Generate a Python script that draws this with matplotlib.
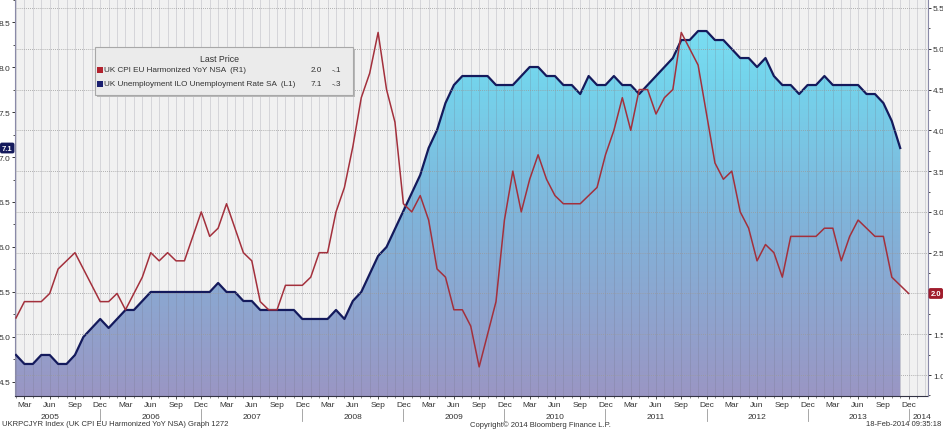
import numpy as np
import pandas as pd
import matplotlib
matplotlib.use("Agg")
import matplotlib.pyplot as plt
from matplotlib.colors import LinearSegmentedColormap
from matplotlib.patches import Rectangle
from matplotlib.transforms import blended_transform_factory

# --- DATA (monthly, Feb 2005 onwards) ---
# UK unemployment ILO rate SA (left axis, L1), Feb 2005 - Nov 2013
unemployment = [
    4.8, 4.7, 4.7, 4.8, 4.8, 4.7, 4.7, 4.8, 5.0, 5.1, 5.2,            # 2005
    5.1, 5.2, 5.3, 5.3, 5.4, 5.5, 5.5, 5.5, 5.5, 5.5, 5.5, 5.5,       # 2006
    5.5, 5.6, 5.5, 5.5, 5.4, 5.4, 5.3, 5.3, 5.3, 5.3, 5.3, 5.2,       # 2007
    5.2, 5.2, 5.2, 5.3, 5.2, 5.4, 5.5, 5.7, 5.9, 6.0, 6.2, 6.4,       # 2008
    6.6, 6.8, 7.1, 7.3, 7.6, 7.8, 7.9, 7.9, 7.9, 7.9, 7.8, 7.8,       # 2009
    7.8, 7.9, 8.0, 8.0, 7.9, 7.9, 7.8, 7.8, 7.7, 7.9, 7.8, 7.8,       # 2010
    7.9, 7.8, 7.8, 7.7, 7.8, 7.9, 8.0, 8.1, 8.3, 8.3, 8.4, 8.4,       # 2011
    8.3, 8.3, 8.2, 8.1, 8.1, 8.0, 8.1, 7.9, 7.8, 7.8, 7.7, 7.8,       # 2012
    7.8, 7.9, 7.8, 7.8, 7.8, 7.8, 7.7, 7.7, 7.6, 7.4, 7.1,            # 2013
]
# UK CPI EU harmonized YoY NSA (right axis, R1), Feb 2005 - Dec 2013
cpi = [
    1.7, 1.9, 1.9, 1.9, 2.0, 2.3, 2.4, 2.5, 2.3, 2.1, 1.9,            # 2005
    1.9, 2.0, 1.8, 2.0, 2.2, 2.5, 2.4, 2.5, 2.4, 2.4, 2.7, 3.0,       # 2006
    2.7, 2.8, 3.1, 2.8, 2.5, 2.4, 1.9, 1.8, 1.8, 2.1, 2.1, 2.1,       # 2007
    2.2, 2.5, 2.5, 3.0, 3.3, 3.8, 4.4, 4.7, 5.2, 4.5, 4.1, 3.1,       # 2008
    3.0, 3.2, 2.9, 2.3, 2.2, 1.8, 1.8, 1.6, 1.1, 1.5, 1.9, 2.9,       # 2009
    3.5, 3.0, 3.4, 3.7, 3.4, 3.2, 3.1, 3.1, 3.1, 3.2, 3.3, 3.7,       # 2010
    4.0, 4.4, 4.0, 4.5, 4.5, 4.2, 4.4, 4.5, 5.2, 5.0, 4.8, 4.2,       # 2011
    3.6, 3.4, 3.5, 3.0, 2.8, 2.4, 2.6, 2.5, 2.2, 2.7, 2.7, 2.7,       # 2012
    2.7, 2.8, 2.8, 2.4, 2.7, 2.9, 2.8, 2.7, 2.7, 2.2, 2.1, 2.0,       # 2013
]
left_ticks = [4.5, 5.0, 5.5, 6.0, 6.5, 7.0, 7.5, 8.0, 8.5]
right_ticks = [1.0, 1.5, 2.0, 2.5, 3.0, 3.5, 4.0, 4.5, 5.0, 5.5]
legend_rows = [
    ("UK CPI EU Harmonized YoY NSA  (R1)", "2.0", "-.1"),
    ("UK Unemployment ILO Unemployment Rate SA  (L1)", "7.1", "-.3"),
]

# --- STYLE ---
W, H = 943, 431
NAVY = "#141a5c"
RED = "#a3303c"
BG = "#f1f1f1"
plt.rcParams["font.family"] = ["Liberation Sans", "DejaVu Sans"]

x_u = np.arange(len(unemployment))
x_c = np.arange(len(cpi))
XMIN, XMAX = -0.12, 108.3
L_MIN, L_MAX = 4.344, 8.756
R_MIN, R_MAX = 0.743, 5.61

fig = plt.figure(figsize=(W / 100, H / 100), dpi=100)
fig.patch.set_facecolor("white")
ax = fig.add_axes([15 / W, 34 / H, 913 / W, 397 / H])
ax.set_facecolor(BG)
ax2 = ax.twinx()
ax2.patch.set_visible(False)

# gradient area under the unemployment line
cmap = LinearSegmentedColormap.from_list(
    "bbg", [(0.0, "#9a96c4"), (0.45, "#80b4da"), (0.8, "#74d4ec"), (1.0, "#7ee4f6")])
grad = np.linspace(0, 1, 256).reshape(-1, 1)
im = ax.imshow(grad, extent=[XMIN, XMAX, L_MIN, L_MAX], origin="lower",
               aspect="auto", cmap=cmap, zorder=1)
poly = ax.fill_between(x_u, unemployment, L_MIN, color="none", lw=0)
im.set_clip_path(poly.get_paths()[0], transform=ax.transData)

# monthly vertical grid
for i in range(0, 109):
    ax.axvline(i, color="#6f6f80", alpha=0.22, lw=0.7, zorder=2.5)

ax.plot(x_u, unemployment, color=NAVY, lw=1.6, zorder=3, solid_joinstyle="round")
ax2.plot(x_c, cpi, color=RED, lw=1.1, zorder=3, solid_joinstyle="round")
for v in right_ticks:
    ax2.axhline(v, color="#9a9a9a", lw=0.6, ls=(0, (1, 1.5)), zorder=0.5)

ax.set_xlim(XMIN, XMAX)
ax.set_ylim(L_MIN, L_MAX)
ax2.set_ylim(R_MIN, R_MAX)

# y axes
tick_kw = dict(labelsize=6, colors="#333333", length=2.5, width=0.7, pad=1)
ax.set_yticks(left_ticks)
ax.set_yticklabels([f"{v:.1f}" for v in left_ticks])
ax.set_yticks(np.arange(4.5, 8.8, 0.25), minor=True)
ax.tick_params(axis="y", which="major", **tick_kw)
ax.tick_params(axis="y", which="minor", length=1.5, width=0.6, colors="#333333")
ax2.set_yticks(right_ticks)
# the last-value tag sits where the 2.0 label would be
ax2.set_yticklabels(["" if v == cpi[-1] else f"{v:.1f}" for v in right_ticks])
ax2.set_yticks(np.arange(0.75, 5.6, 0.25), minor=True)
ax2.tick_params(axis="y", which="major", **tick_kw)
ax2.tick_params(axis="y", which="minor", length=1.5, width=0.6, colors="#333333")

# x axis: every month ticked, Mar/Jun/Sep/Dec labelled
all_months = pd.date_range("2005-02-01", periods=108, freq="MS")
major = [i for i, d in enumerate(all_months) if d.month % 3 == 0]
ax.set_xticks(major)
ax.set_xticklabels([all_months[i].strftime("%b") for i in major])
ax.set_xticks(range(0, 108), minor=True)
ax.tick_params(axis="x", which="major", labelsize=6, colors="#333333", length=2.5, width=0.6, pad=1)
ax.tick_params(axis="x", which="minor", length=1.5, width=0.5, colors="#555555")

trans = blended_transform_factory(ax.transData, ax.transAxes)
for i, d in enumerate(all_months):
    if d.month == 6:
        ax.text(i, -0.052, str(d.year), transform=trans, ha="center", va="center",
                fontsize=6, color="#333333")
    if d.month == 12:
        ax.plot([i, i], [-0.033, -0.062], transform=trans, color="#999999", lw=0.6, clip_on=False)
ax.text(106.5, -0.052, "2014", transform=trans, ha="left", va="center", fontsize=6, color="#333333")

ax.spines["top"].set_visible(False)
ax2.spines["top"].set_visible(False)
ax.spines["left"].set_color("#8a8aa8")
ax2.spines["left"].set_visible(False)
ax2.spines["right"].set_color("#8a8aa8")
ax.spines["bottom"].set_color("#333344")
ax2.spines["bottom"].set_visible(False)
ax.spines["right"].set_visible(False)

# last value tags
tl = blended_transform_factory(ax.transAxes, ax.transData)
ax.text(-0.0085, unemployment[-1], f"{unemployment[-1]:.1f}", transform=tl, ha="center", va="center",
        fontsize=5.5, color="white", fontweight="bold", clip_on=False, zorder=10,
        bbox=dict(boxstyle="round,pad=0.25", fc=NAVY, ec="none"))
tr = blended_transform_factory(ax2.transAxes, ax2.transData)
ax2.text(1.0085, cpi[-1], f"{cpi[-1]:.1f}", transform=tr, ha="center", va="center",
         fontsize=5.5, color="white", fontweight="bold", clip_on=False, zorder=10,
         bbox=dict(boxstyle="round,pad=0.25", fc="#a01c2c", ec="none"))

# legend box (pixel layout)
def fx(px):
    return px / W

def fy(py):
    return 1 - py / H

fig.add_artist(Rectangle((fx(97), fy(98)), fx(353) - fx(95), fy(48) - fy(96),
                         transform=fig.transFigure, fc="#b8b8b8", ec="none", zorder=9))
fig.add_artist(Rectangle((fx(95), fy(96)), fx(353) - fx(95), fy(48) - fy(96),
                         transform=fig.transFigure, fc="#ebebeb", ec="#a8a8a8", lw=0.8, zorder=10))
fig.text(fx(219), fy(60), "Last Price", ha="center", va="center", fontsize=6.3, color="#333333", zorder=11)
for k, (label, last, chg) in enumerate(legend_rows):
    yy = fy(71 + 14 * k)
    col = "#b2222e" if k == 0 else "#1a1f70"
    fig.add_artist(Rectangle((fx(97), yy - 2.7 / H), 5.5 / W, 5.5 / H, transform=fig.transFigure,
                             fc=col, ec="none", zorder=11))
    fig.text(fx(104), yy, label, ha="left", va="center", fontsize=5.9, color="#333333", zorder=11)
    fig.text(fx(322), yy, last, ha="right", va="center", fontsize=5.9, color="#333333", zorder=11)
    fig.text(fx(332), yy, chg, ha="left", va="center", fontsize=5.9, color="#333333", zorder=11)

# footer
fig.text(fx(2), fy(425), "UKRPCJYR Index (UK CPI EU Harmonized YoY NSA) Graph 1272",
         ha="left", va="center", fontsize=5.5, color="#333333")
fig.text(fx(470), fy(425), "Copyright\u00a9 2014 Bloomberg Finance L.P.",
         ha="left", va="center", fontsize=5.5, color="#333333")
fig.text(fx(941), fy(425), "18-Feb-2014 09:35:18", ha="right", va="center", fontsize=5.5, color="#333333")

fig.savefig("out.png", dpi=100)
